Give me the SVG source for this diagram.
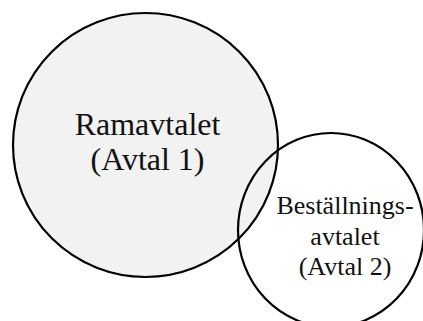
<svg xmlns="http://www.w3.org/2000/svg" width="423" height="321" viewBox="0 0 423 321">
  <style>
    .ring { stroke: #000; stroke-width: 2.2; }
    .label { fill: #111; text-anchor: middle; }
  </style>
  <rect width="423" height="321" fill="#fff"/>
  <g id="ramavtalet" font-family="'Liberation Serif', 'Times New Roman', 'DejaVu Serif', serif">
    <ellipse class="ring" cx="145.5" cy="145" rx="132.5" ry="132" fill="#f2f2f2"/>
    <text class="label" font-size="32" x="147.5" y="135">Ramavtalet</text>
    <text class="label" font-size="32" x="147.5" y="170">(Avtal 1)</text>
  </g>
  <g id="bestallningsavtalet" font-family="'Liberation Serif', 'Times New Roman', 'DejaVu Serif', serif">
    <ellipse class="ring" cx="331" cy="230" rx="93" ry="97" fill="none"/>
    <text class="label" font-size="26" x="345" y="213.5">Beställnings-</text>
    <text class="label" font-size="26" x="345" y="245">avtalet</text>
    <text class="label" font-size="26" x="345" y="275">(Avtal 2)</text>
  </g>
  <g id="connectors"/>
</svg>
